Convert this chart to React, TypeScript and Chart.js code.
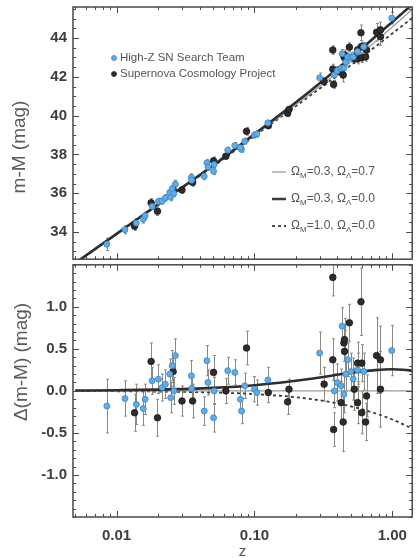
import React, { useEffect, useRef } from 'react';
import { Chart, registerables } from 'chart.js';
Chart.register(...registerables);

// ---------------- data ----------------
// High-Z SN Search Team
const HZT_Z = [0.0085, 0.0115, 0.0139, 0.0156, 0.0161, 0.0181, 0.0201, 0.0214, 0.0226, 0.0243, 0.0253, 0.0267, 0.0247, 0.026, 0.0349, 0.035, 0.0432, 0.0452, 0.051, 0.0505, 0.046, 0.064, 0.072, 0.0806, 0.085, 0.079, 0.1, 0.104, 0.125, 0.297, 0.38, 0.398, 0.425, 0.432, 0.445, 0.46, 0.474, 0.5, 0.52, 0.56, 0.62, 0.99];
const HZT_MU = [33.37, 34.12, 34.46, 34.66, 34.84, 35.32, 35.57, 35.6, 35.76, 36.04, 36.23, 36.47, 35.8, 35.99, 36.82, 36.67, 36.87, 37.57, 37.48, 37.13, 37.35, 38.22, 38.46, 38.26, 38.68, 38.35, 39.0, 39.05, 39.62, 41.95, 42.1, 42.31, 42.44, 43.19, 42.45, 42.77, 43.02, 43.01, 43.02, 43.31, 43.55, 45.03];
const HZT_RES = [-0.18, -0.09, -0.16, -0.21, -0.1, 0.12, 0.14, 0.04, 0.08, 0.2, 0.3, 0.42, -0.08, 0.0, 0.18, 0.03, -0.24, 0.36, 0.0, -0.32, 0.1, 0.24, 0.22, -0.24, 0.06, -0.1, 0.02, -0.02, 0.13, 0.45, 0.0, 0.1, 0.06, 0.77, -0.04, 0.2, 0.37, 0.23, 0.14, 0.25, 0.23, 0.48];
const HZT_ERR = [0.32, 0.21, 0.24, 0.2, 0.18, 0.16, 0.17, 0.16, 0.17, 0.18, 0.18, 0.2, 0.18, 0.16, 0.18, 0.17, 0.17, 0.18, 0.16, 0.17, 0.15, 0.16, 0.15, 0.15, 0.15, 0.15, 0.15, 0.15, 0.15, 0.25, 0.2, 0.22, 0.2, 0.22, 0.22, 0.2, 0.2, 0.22, 0.25, 0.2, 0.22, 0.3];

// Supernova Cosmology Project
const SCP_Z = [0.0135, 0.0178, 0.0198, 0.0257, 0.0298, 0.0356, 0.0505, 0.062, 0.0876, 0.126, 0.174, 0.178, 0.32, 0.37, 0.37, 0.375, 0.425, 0.44, 0.445, 0.45, 0.45, 0.488, 0.53, 0.56, 0.56, 0.592, 0.6, 0.6, 0.64, 0.65, 0.769, 0.82, 0.82];
const SCP_MU = [34.3, 35.51, 35.07, 36.19, 36.17, 36.56, 37.67, 37.91, 39.19, 39.48, 40.12, 40.32, 41.76, 42.4, 43.38, 41.61, 42.24, 42.09, 43.06, 42.99, 43.13, 43.53, 42.95, 43.39, 42.92, 44.27, 43.57, 42.98, 43.03, 43.38, 44.3, 44.42, 44.07];
const SCP_RES = [-0.26, 0.35, -0.32, 0.23, -0.12, -0.12, 0.22, 0.0, 0.51, -0.02, -0.13, 0.02, 0.08, 0.37, 1.35, -0.46, -0.14, -0.37, 0.57, 0.47, 0.61, 0.81, 0.02, 0.33, -0.14, 1.06, 0.33, -0.26, -0.37, -0.06, 0.42, 0.37, 0.02];
const SCP_ERR = [0.22, 0.22, 0.22, 0.18, 0.18, 0.2, 0.2, 0.15, 0.2, 0.12, 0.15, 0.12, 0.2, 0.25, 0.22, 0.2, 0.25, 0.35, 0.22, 0.25, 0.25, 0.22, 0.25, 0.25, 0.25, 0.4, 0.22, 0.25, 0.22, 0.25, 0.45, 0.4, 0.45];

// model curves
const MODEL_Z = [0.005, 0.01, 0.02, 0.05, 0.1, 0.25, 0.5, 0.75, 1.0, 1.2, 1.4];
const MU_LAMBDA = [32.394, 33.908, 35.429, 37.426, 39.048, 41.235, 42.993, 44.062, 44.832, 45.322, 45.736];
const MU_OPEN = [32.39, 33.9, 35.414, 37.39, 38.98, 41.093, 42.778, 43.815, 44.575, 45.071, 45.496];
const MU_EDS = [32.388, 33.896, 35.406, 37.371, 38.942, 40.999, 42.598, 43.549, 44.235, 44.673, 45.045];
const RES_LAMBDA = [0.004, 0.008, 0.015, 0.036, 0.068, 0.142, 0.215, 0.247, 0.257, 0.251, 0.24];
const RES_OPEN = [0, 0, 0, 0, 0, 0, 0, 0, 0, 0, 0];
const RES_EDS = [-0.002, -0.004, -0.008, -0.019, -0.038, -0.094, -0.183, -0.266, -0.34, -0.398, -0.451];

// labels / ticks
const SERIES_NAMES = ['High-Z SN Search Team', 'Supernova Cosmology Project'];
const MODEL_OMEGA_M = ['0.3', '0.3', '1.0'];
const MODEL_OMEGA_L = ['0.7', '0.0', '0.0'];
const X_LABEL_TICKS = [0.01, 0.1, 1];
const TOP_Y_TICKS = [34, 36, 38, 40, 42, 44];
const BOTTOM_Y_TICKS = [-1.0, -0.5, 0.0, 0.5, 1.0];
const TOP_Y_TITLE = 'm-M (mag)';
const BOTTOM_Y_TITLE = 'Δ(m-M) (mag)';
const X_TITLE = 'z';

// ---------------- styles ----------------
const X_MIN = 0.00483;
const X_MAX = 1.393;
const FONT = '"Liberation Sans", Arial, Helvetica, sans-serif';
const BLUE = '#5cadea';
const BLUE_EDGE = '#3b84c4';
const DARK = '#2f2a2c';
const ERR_COLOR = '#8a8a82';
const FRAME = '#4a4a4a';

const pts = (xs: number[], ys: number[]) => xs.map((x, i) => ({ x, y: ys[i] }));

const errorBarPlugin = {
  id: 'errorBars',
  beforeDatasetsDraw(chart: any) {
    const { ctx, chartArea: a } = chart;
    const xs = chart.scales.x;
    const ys = chart.scales.y;
    ctx.save();
    ctx.beginPath();
    ctx.rect(a.left, a.top, a.right - a.left, a.bottom - a.top);
    ctx.clip();
    chart.data.datasets.forEach((ds: any) => {
      if (!ds.errorBars) return;
      ctx.strokeStyle = ERR_COLOR;
      ctx.lineWidth = 1;
      ds.data.forEach((p: any, i: number) => {
        const e = ds.errorBars[i];
        const px = Math.round(xs.getPixelForValue(p.x)) + 0.5;
        const y1 = ys.getPixelForValue(p.y - e);
        const y2 = ys.getPixelForValue(p.y + e);
        ctx.beginPath();
        ctx.moveTo(px, y1);
        ctx.lineTo(px, y2);
        ctx.moveTo(px - 1.5, y1);
        ctx.lineTo(px + 1.5, y1);
        ctx.moveTo(px - 1.5, y2);
        ctx.lineTo(px + 1.5, y2);
        ctx.stroke();
      });
    });
    ctx.restore();
  },
};

const frameTicksPlugin = {
  id: 'frameTicks',
  afterDraw(chart: any, _args: any, opts: any) {
    const { ctx, chartArea: a } = chart;
    const xs = chart.scales.x;
    const ys = chart.scales.y;
    ctx.save();
    ctx.strokeStyle = FRAME;
    ctx.lineWidth = 1;
    const seg = (x1: number, y1: number, x2: number, y2: number) => {
      ctx.beginPath();
      ctx.moveTo(x1, y1);
      ctx.lineTo(x2, y2);
      ctx.stroke();
    };
    for (let e = -3; e <= 0; e++) {
      for (let k = 1; k <= 9; k++) {
        const v = k * Math.pow(10, e);
        if (v < xs.min || v > xs.max) continue;
        const px = Math.round(xs.getPixelForValue(v)) + 0.5;
        const len = k === 1 ? 6 : 3;
        seg(px, a.top, px, a.top + len);
        seg(px, a.bottom, px, a.bottom - len);
      }
    }
    const step = opts.minorStep;
    const start = Math.ceil(ys.min / step - 1e-9);
    const end = Math.floor(ys.max / step + 1e-9);
    for (let i = start; i <= end; i++) {
      const v = i * step;
      const major = opts.majors.some((m: number) => Math.abs(m - v) < 1e-6);
      const py = Math.round(ys.getPixelForValue(v)) + 0.5;
      const len = major ? 6 : 3;
      seg(a.left, py, a.left + len, py);
      seg(a.right, py, a.right - len, py);
    }
    ctx.lineWidth = 1.5;
    ctx.strokeRect(a.left, a.top, a.right - a.left, a.bottom - a.top);
    // rotated y-axis title
    if (opts.title) {
      ctx.save();
      ctx.translate(opts.titleX, opts.titleY);
      ctx.rotate(-Math.PI / 2);
      ctx.font = `19px ${FONT}`;
      ctx.fillStyle = '#5a5a5a';
      ctx.textAlign = 'center';
      ctx.textBaseline = 'middle';
      ctx.fillText(opts.title, 0, 0);
      ctx.restore();
    }
    ctx.restore();
  },
};

const drawParts = (ctx: any, x: number, y: number, parts: [string, boolean][], size: number) => {
  let cx = x;
  parts.forEach(([t, sub]) => {
    ctx.font = `${sub ? Math.round(size * 0.7) : size}px ${FONT}`;
    ctx.fillText(t, cx, sub ? y + size * 0.3 : y);
    cx += ctx.measureText(t).width;
  });
};

const legendPlugin = {
  id: 'panelLegend',
  afterDraw(chart: any) {
    const { ctx } = chart;
    ctx.save();
    ctx.textBaseline = 'middle';
    ctx.fillStyle = '#555';
    const rows = [
      { y: 58, fill: BLUE, edge: BLUE_EDGE, r: 2.5 },
      { y: 74, fill: DARK, edge: DARK, r: 2.5 },
    ];
    rows.forEach((r, i) => {
      ctx.beginPath();
      ctx.arc(114, r.y, r.r, 0, Math.PI * 2);
      ctx.fillStyle = r.fill;
      ctx.fill();
      ctx.strokeStyle = r.edge;
      ctx.lineWidth = 0.8;
      ctx.stroke();
      ctx.fillStyle = '#555';
      ctx.font = `11.5px ${FONT}`;
      ctx.fillText(SERIES_NAMES[i], 120, r.y);
    });
    const styles = [
      { color: '#a8a8a8', width: 1.5, dash: [] as number[] },
      { color: '#3a3a3a', width: 2.5, dash: [] as number[] },
      { color: '#3a3a3a', width: 1.8, dash: [3, 3] },
    ];
    const ys = [172, 199, 226];
    styles.forEach((s, i) => {
      ctx.strokeStyle = s.color;
      ctx.lineWidth = s.width;
      ctx.setLineDash(s.dash);
      ctx.beginPath();
      ctx.moveTo(272, ys[i]);
      ctx.lineTo(286, ys[i]);
      ctx.stroke();
      ctx.setLineDash([]);
      ctx.fillStyle = '#555';
      drawParts(ctx, 291, ys[i], [
        ['Ω', false], ['M', true], ['=' + MODEL_OMEGA_M[i] + ', Ω', false], ['Λ', true], ['=' + MODEL_OMEGA_L[i], false],
      ], 12);
    });
    ctx.restore();
  },
};

const pointSets = (yHzt: number[], ySc: number[]) => [
  {
    label: SERIES_NAMES[0],
    data: pts(HZT_Z, yHzt),
    errorBars: HZT_ERR,
    showLine: false,
    pointStyle: 'circle',
    pointRadius: 3,
    backgroundColor: BLUE,
    borderColor: BLUE_EDGE,
    borderWidth: 0.8,
  },
  {
    label: SERIES_NAMES[1],
    data: pts(SCP_Z, ySc),
    errorBars: SCP_ERR,
    showLine: false,
    pointStyle: 'circle',
    pointRadius: 3.3,
    backgroundColor: DARK,
    borderColor: '#1c1819',
    borderWidth: 0.8,
  },
];

const lineSets = (l: number[], o: number[], e: number[]) => [
  { label: 'L', data: pts(MODEL_Z, l), showLine: true, pointRadius: 0, borderColor: '#2e2e2e', borderWidth: 2.6, cubicInterpolationMode: 'monotone' },
  { label: 'O', data: pts(MODEL_Z, o), showLine: true, pointRadius: 0, borderColor: '#9a9a9a', borderWidth: 1.3, cubicInterpolationMode: 'monotone' },
  { label: 'E', data: pts(MODEL_Z, e), showLine: true, pointRadius: 0, borderColor: '#3a3a3a', borderWidth: 1.8, borderDash: [3, 3], cubicInterpolationMode: 'monotone' },
];

const yAxis = (min: number, max: number, ticks: number[], decimals: number) => ({
  type: 'linear',
  min,
  max,
  afterFit: (s: any) => {
    s.width = 73;
    s.paddingTop = 0;
    s.paddingBottom = 0;
  },
  afterBuildTicks: (s: any) => { s.ticks = ticks.map((v) => ({ value: v })); },
  grid: { display: false, drawTicks: false },
  border: { display: false },
  ticks: {
    padding: 6,
    color: '#3e3e3e',
    font: { family: FONT, size: 15, weight: 'bold' },
    callback: (v: any) => Number(v).toFixed(decimals),
  },
  title: { display: false },
});

export default function App() {
  const topRef = useRef<HTMLCanvasElement>(null);
  const botRef = useRef<HTMLCanvasElement>(null);

  useEffect(() => {
    const common = {
      animation: false,
      responsive: false,
      maintainAspectRatio: false,
      events: [],
      plugins: { legend: { display: false }, tooltip: { enabled: false } },
    };
    const top = new Chart(topRef.current as HTMLCanvasElement, {
      type: 'scatter',
      data: { datasets: [...pointSets(HZT_MU, SCP_MU), ...lineSets(MU_LAMBDA, MU_OPEN, MU_EDS)] as any },
      options: {
        ...common,
        layout: { padding: { top: 7, right: 2, bottom: 2, left: 0 } },
        plugins: {
          ...common.plugins,
          frameTicks: { minorStep: 0.5, majors: TOP_Y_TICKS, title: TOP_Y_TITLE, titleX: 20, titleY: 147 },
        },
        scales: {
          x: { type: 'logarithmic', min: X_MIN, max: X_MAX, display: false },
          y: yAxis(32.6, 45.6, TOP_Y_TICKS, 0),
        },
      } as any,
      plugins: [errorBarPlugin, frameTicksPlugin, legendPlugin],
    });
    const bot = new Chart(botRef.current as HTMLCanvasElement, {
      type: 'scatter',
      data: { datasets: [...pointSets(HZT_RES, SCP_RES), ...lineSets(RES_LAMBDA, RES_OPEN, RES_EDS)] as any },
      options: {
        ...common,
        layout: { padding: { top: 2, right: 2, bottom: 0, left: 0 } },
        plugins: {
          ...common.plugins,
          frameTicks: { minorStep: 0.1, majors: BOTTOM_Y_TICKS, title: BOTTOM_Y_TITLE, titleX: 22, titleY: 102 },
        },
        scales: {
          x: {
            type: 'logarithmic',
            min: X_MIN,
            max: X_MAX,
            afterFit: (s: any) => {
              s.height = 41;
              s.paddingLeft = 0;
              s.paddingRight = 0;
            },
            afterBuildTicks: (s: any) => { s.ticks = X_LABEL_TICKS.map((v) => ({ value: v, major: true })); },
            grid: { display: false, drawTicks: false },
            border: { display: false },
            ticks: {
              padding: 10,
              autoSkip: false,
              maxRotation: 0,
              color: '#3e3e3e',
              font: { family: FONT, size: 15, weight: 'bold' },
              callback: (v: any) => Number(v).toFixed(2),
            },
            title: {
              display: true,
              text: X_TITLE,
              color: '#555',
              font: { family: FONT, size: 15, lineHeight: 1 },
              padding: { top: 0, bottom: -1 },
            },
          },
          y: yAxis(-1.5, 1.5, BOTTOM_Y_TICKS, 1),
        },
      } as any,
      plugins: [errorBarPlugin, frameTicksPlugin],
    });
    return () => {
      top.destroy();
      bot.destroy();
    };
  }, []);

  return (
    <div style={{ position: 'fixed', left: 0, top: 0, width: 417, height: 558, background: '#fff', overflow: 'hidden' }}>
      <canvas ref={topRef} width={417} height={264} style={{ position: 'absolute', left: 0, top: 0 }} />
      <canvas ref={botRef} width={417} height={298} style={{ position: 'absolute', left: 0, top: 260 }} />
    </div>
  );
}
